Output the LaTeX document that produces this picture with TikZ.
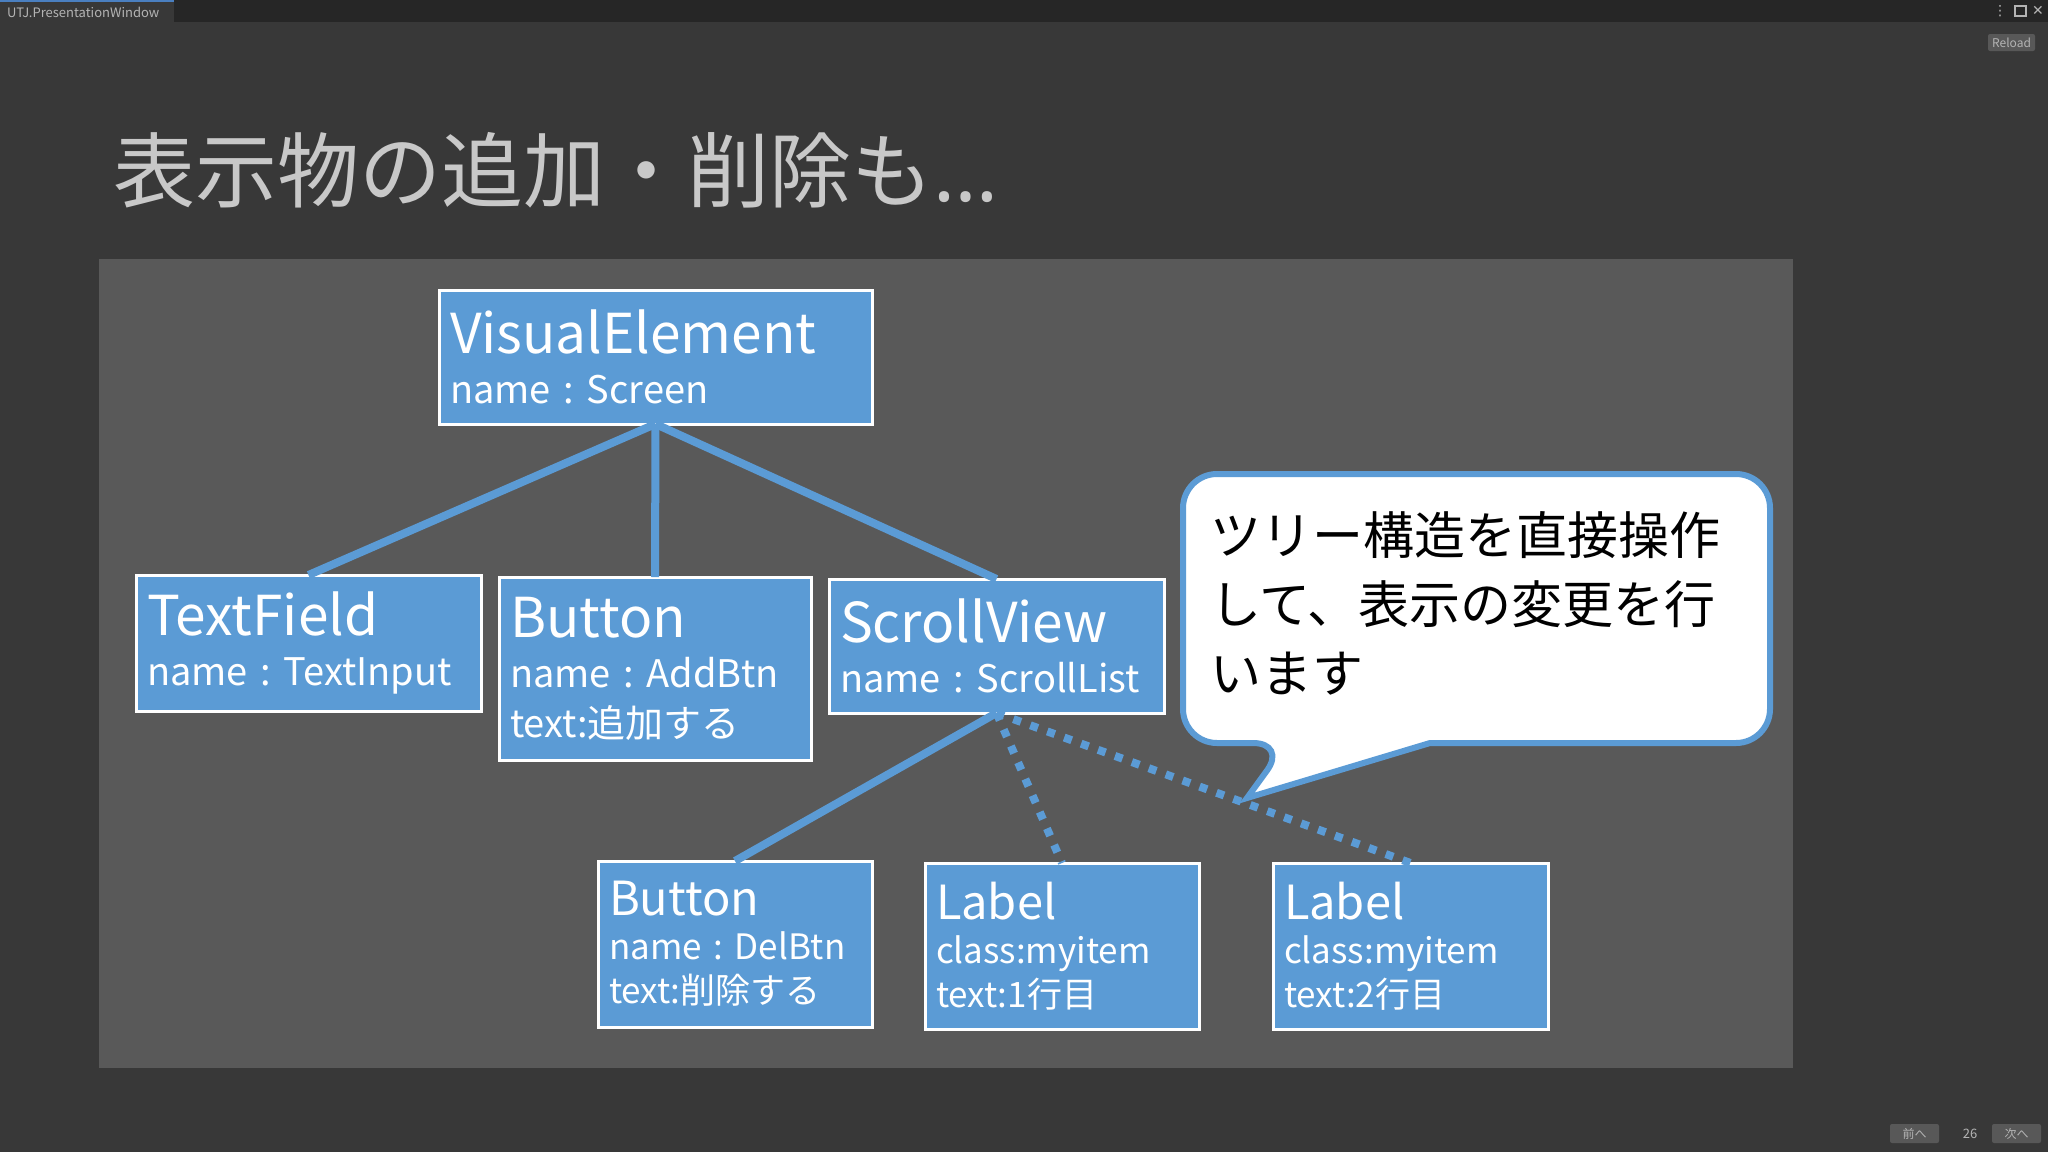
\documentclass[tikz,border=0pt]{standalone}
\usepackage{fontspec}
\setmainfont{Noto Sans CJK JP}
\newfontfamily\latinfont{Noto Sans}
\newfontfamily\symbolfont{DejaVu Sans}
\frenchspacing

\definecolor{uiblue}{HTML}{5B9BD5}
\definecolor{slidegray}{HTML}{383838}
\definecolor{bargray}{HTML}{262626}
\definecolor{panelgray}{HTML}{595959}
\definecolor{tabblue}{HTML}{4A7FC0}
\definecolor{titlegray}{HTML}{C8C8C8}
\definecolor{uitext}{HTML}{B4B4B4}
\definecolor{btngray}{HTML}{585858}

\newcommand{\tophead}[1]{{\fontsize{55}{55}\selectfont #1}}
\newcommand{\lowhead}[1]{{\fontsize{47}{47}\selectfont #1}}

\begin{document}
\begin{tikzpicture}[x=1pt, y=-1pt, line join=miter,
	every node/.style={inner sep=0pt, outer sep=0pt},
	elem/.style={draw=white, line width=3pt, fill=uiblue, text=white, anchor=north west, align=left, inner xsep=11pt, font=\fontsize{38}{50}\selectfont},
	subelem/.style={elem, font=\fontsize{35}{44}\selectfont},
	link/.style={draw=uiblue, line width=8pt},
	dotlink/.style={link, dash pattern=on 8pt off 10pt},
	bubble/.style={draw=uiblue, fill=white, line width=6pt},
	uibtn/.style={fill=btngray, text=uitext, font=\fontsize{12}{12}\selectfont, minimum width=49pt, minimum height=19pt, rounded corners=2pt, anchor=north west}]
	\useasboundingbox (0,0) rectangle (2048,1152);
	
	% Khung cửa sổ
	\fill[slidegray] (0,0) rectangle (2048,1152);
	\fill[bargray] (0,0) rectangle (2048,22);
	\fill[slidegray] (0,2) rectangle (174,22);
	\fill[tabblue] (0,0) rectangle (174,2);
	\node[anchor=west, text=uitext, font=\fontsize{13}{13}\selectfont] (wintab) at (7,12) {UTJ.PresentationWindow};
	\node[text=uitext, font=\symbolfont\fontsize{14}{14}\selectfont] (menuicon) at (2000,11) {⋮};
	\draw[uitext, line width=1.5pt] (2015,6) rectangle (2026,16);
	\node[text=uitext, font=\symbolfont\fontsize{14}{14}\selectfont] (closeicon) at (2038,11) {✕};
	\node[uibtn, minimum width=47pt, minimum height=17pt] (reload) at (1988,34) {Reload};
	\node[uibtn] (prevbtn) at (1890,1124) {前へ};
	\node[text=uitext, font=\fontsize{13}{13}\selectfont] (pagenum) at (1970,1134) {26};
	\node[uibtn] (nextbtn) at (1992,1124) {次へ};
	
	% Tiêu đề
	\node[anchor=base west, text=titlegray, font=\fontsize{82}{82}\selectfont] (title) at (113,201) {表示物の追加・削除も{\latinfont …}};
	
	% Cây phần tử
	\fill[panelgray] (99,259) rectangle (1793,1068);
	\node[elem, text width=411pt, minimum height=134pt] (screen) at (439,290) {\tophead{VisualElement}\\name : Screen};
	\node[elem, text width=323pt, minimum height=136pt] (textinput) at (136,575) {\tophead{TextField}\\name : TextInput};
	\node[elem, text width=290pt, minimum height=183pt] (addbtn) at (499,577) {\tophead{Button}\\name : AddBtn\\text:追加する};
	\node[elem, text width=313pt, minimum height=134pt] (scrolllist) at (829,579) {\tophead{ScrollView}\\name : ScrollList};
	\node[subelem, text width=252pt, minimum height=166pt] (delbtn) at (598,861) {\lowhead{Button}\\name : DelBtn\\text:削除する};
	\node[subelem, text width=252pt, minimum height=166pt] (item1) at (925,863) {\lowhead{Label}\\class:myitem\\text:1行目};
	\node[subelem, text width=253pt, minimum height=166pt] (item2) at (1273,863) {\lowhead{Label}\\class:myitem\\text:2行目};
	
	% Chú thích
	\draw[bubble] (1430,743) [rounded corners=34pt] -- (1770,743) -- (1770,474) -- (1183,474) -- (1183,743) -- (1287,743) [sharp corners] -- (1247,798) -- cycle;
	\node[anchor=north west, align=left, text=black, font=\fontsize{51}{69}\selectfont] (note) at (1210,511) {ツリー構造を直接操作\\して、表示の変更を行\\います};
	
	\draw[link] (screen.south) -- (textinput.north);
	\draw[link] (screen.south) -- (addbtn.north);
	\draw[link] (screen.south) -- (scrolllist.north);
	\draw[link] (scrolllist.south) -- (delbtn.north);
	\draw[dotlink] (scrolllist.south) -- (item1.north);
	\draw[dotlink] (scrolllist.south) -- (item2.north);
\end{tikzpicture}
\end{document}
